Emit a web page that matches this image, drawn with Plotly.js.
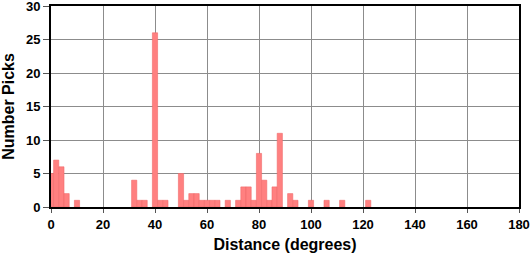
<!DOCTYPE html>
<html>
<head>
<meta charset="utf-8">
<script src="https://cdn.plot.ly/plotly-3.0.1.min.js"></script>
<style>html,body{margin:0;padding:0;background:#fff}#chart{width:530px;height:258px}</style>
</head>
<body>
<div id="chart"></div>
<script>
// Bin centers (degrees), bin width 2
const binCenters = [0,2,4,6,10,32,34,36,40,42,44,50,52,54,56,58,60,62,64,68,72,74,76,78,80,82,84,86,88,92,94,100,106,112,122];
const pickCounts = [5,7,6,2,1,4,1,1,26,1,1,5,1,2,2,1,1,1,1,1,1,3,3,1,8,4,1,3,11,2,1,1,1,1,1];
const binWidth = 2;
const xTicks = [0,20,40,60,80,100,120,140,160,180];
const yTicks = [0,5,10,15,20,25,30];
const xTitle = 'Distance (degrees)';
const yTitle = 'Number Picks';

const tickFont = {family: 'Liberation Sans, Arial, sans-serif', size: 13, color: '#000', weight: 700};
const titleFont = {family: 'Liberation Sans, Arial, sans-serif', size: 16, color: '#000', weight: 700};

const trace = {
  type: 'bar',
  x: binCenters,
  y: pickCounts,
  width: binCenters.map(() => binWidth),
  marker: {color: '#ff8080', line: {color: '#f06a6a', width: 0.6}},
  hoverinfo: 'none'
};

const layout = {
  width: 530, height: 258,
  margin: {l: 51, r: 11, t: 6, b: 51, pad: 0},
  paper_bgcolor: '#fff', plot_bgcolor: '#fff',
  showlegend: false,
  bargap: 0,
  xaxis: {
    range: [0, 180], tickvals: xTicks, ticktext: xTicks.map(String),
    showgrid: true, gridcolor: '#8c8c8c', gridwidth: 1,
    showline: true, linecolor: '#000', linewidth: 2, mirror: true,
    ticks: 'outside', ticklen: 4, tickcolor: '#555', tickwidth: 1,
    tickfont: tickFont, zeroline: false, fixedrange: true,
    ticklabeloverflow: 'allow',
    title: {text: xTitle, font: titleFont, standoff: 8}
  },
  yaxis: {
    range: [0, 30], tickvals: yTicks, ticktext: yTicks.map(String),
    showgrid: true, gridcolor: '#8c8c8c', gridwidth: 1,
    showline: true, linecolor: '#000', linewidth: 2, mirror: true,
    ticks: 'outside', ticklen: 6, tickcolor: '#555', tickwidth: 1,
    tickfont: tickFont, zeroline: false, fixedrange: true,
    ticklabeloverflow: 'allow',
    title: {text: yTitle, font: titleFont, standoff: 8}
  }
};

Plotly.newPlot('chart', [trace], layout, {staticPlot: true, displayModeBar: false});
</script>
</body>
</html>
